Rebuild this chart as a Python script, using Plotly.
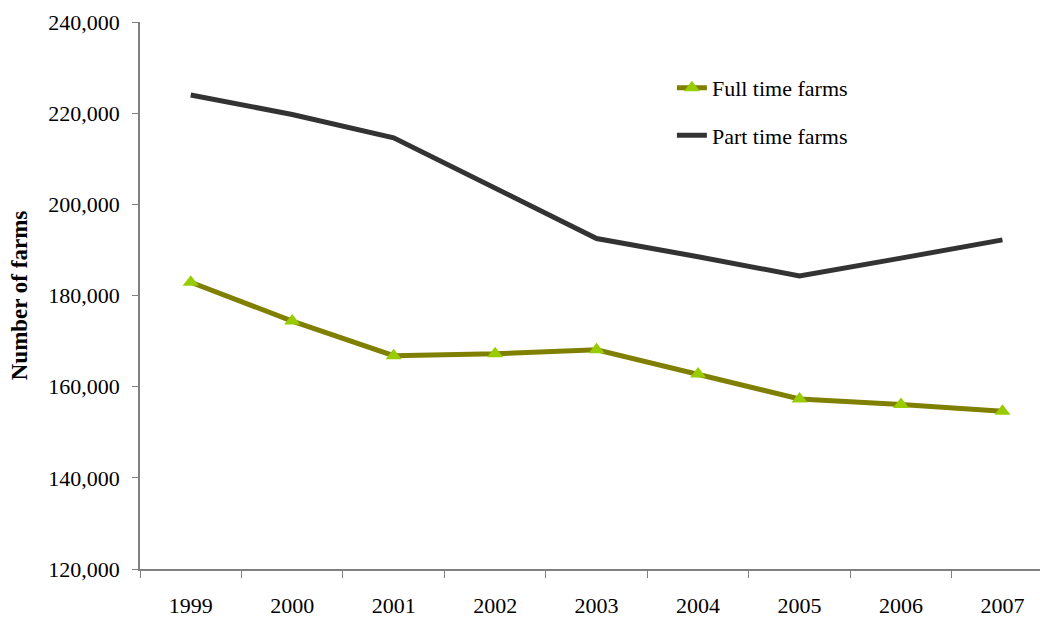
import plotly.graph_objects as go

years = ["1999", "2000", "2001", "2002", "2003", "2004", "2005", "2006", "2007"]
full_time = [182900, 174400, 166800, 167200, 168100, 162800, 157300, 156100, 154600]
part_time = [224000, 219700, 214600, 203600, 192500, 188500, 184300, 188200, 192200]
y_ticks = [120000, 140000, 160000, 180000, 200000, 220000, 240000]

FONT = "Liberation Serif, Times New Roman, serif"

fig = go.Figure()
fig.add_trace(go.Scatter(
    x=years, y=full_time, name="Full time farms", mode="lines+markers",
    line=dict(color="#808000", width=5),
    marker=dict(symbol="triangle-up", size=14, color="#99CC00"),
    legendgroup="a",
))
fig.add_trace(go.Scatter(
    x=years, y=part_time, name="Part time farms", mode="lines",
    line=dict(color="#333333", width=5),
    legendgroup="b",
))

fig.update_layout(
    width=1040, height=618,
    margin=dict(l=140, r=0, t=22, b=47),
    paper_bgcolor="white", plot_bgcolor="white",
    font=dict(family=FONT, size=22, color="black"),
    showlegend=True,
    legend=dict(
        x=0.591, y=0.918, xanchor="left", yanchor="top",
        bgcolor="rgba(0,0,0,0)", tracegroupgap=16,
        font=dict(family=FONT, size=22),
    ),
    xaxis=dict(
        type="category", range=[-0.5, 8.37],
        showline=True, linecolor="#808080", linewidth=1.5,
        ticks="outside", ticklen=7, tickcolor="#808080",
        tickson="boundaries", ticklabelstandoff=16,
        showgrid=False, zeroline=False,
    ),
    yaxis=dict(
        range=[120000, 240000], tickvals=y_ticks, tickformat=",d",
        showline=True, linecolor="#808080", linewidth=1.5,
        ticks="outside", ticklen=6, tickcolor="#808080",
        ticklabelstandoff=8,
        showgrid=False, zeroline=False,
        title=dict(text="<b>Number of farms</b>", standoff=14,
                   font=dict(family=FONT, size=23)),
    ),
)

fig.write_html("out.html")
